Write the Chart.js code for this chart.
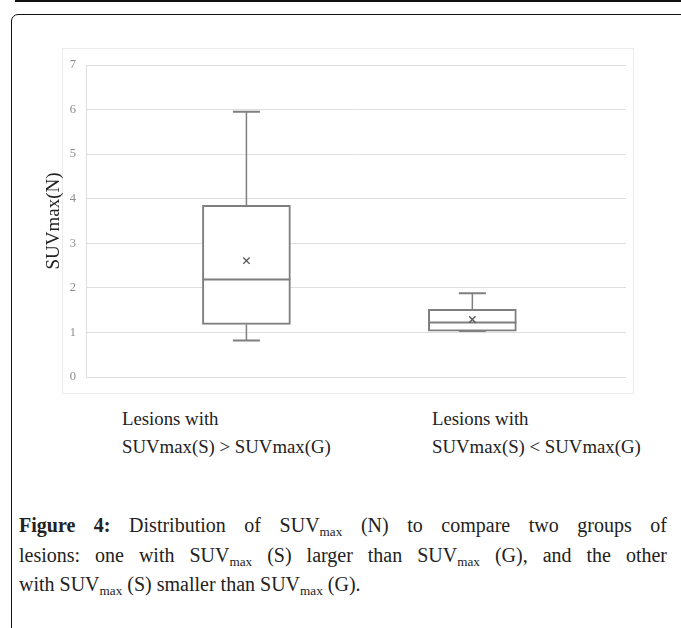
<!DOCTYPE html>
<html>
<head>
<meta charset="utf-8">
<script src="https://cdn.jsdelivr.net/npm/chart.js@4.4.1/dist/chart.umd.min.js"></script>
<style>
body { margin:0; width:681px; height:628px; overflow:hidden; background:#fff; position:relative; font-family:"Liberation Serif", serif; }
#topline { position:absolute; left:15px; right:0; top:0; height:2px; background:#111; }
#frame { position:absolute; left:11px; top:14px; width:720px; height:660px; border:1.5px solid #111; border-radius:7px; }
#chartBorder { position:absolute; left:62px; top:48px; width:570px; height:344px; border:1px solid #ebebeb; }
#wrap { position:absolute; left:30px; top:40px; width:620px; height:360px; }
.xlab { position:absolute; top:405px; font-size:18.8px; line-height:28px; color:#222; white-space:nowrap; }
#caption { position:absolute; left:19px; top:511px; width:648px; font-size:20px; line-height:29.5px; color:#222; }
.cl { white-space:nowrap; }
.j { text-align:justify; text-align-last:justify; white-space:normal; }
sub { font-size:0.66em; vertical-align:-0.3em; line-height:0; }
</style>
</head>
<body>
<div id="topline"></div>
<div id="frame"></div>
<div id="chartBorder"></div>
<div id="wrap"><canvas id="box" width="620" height="360"></canvas></div>
<div id="labels"></div>
<div id="caption">
<div class="cl j"><b>Figure 4:</b> Distribution of SUV<sub>max</sub> (N) to compare two groups of</div>
<div class="cl j">lesions: one with SUV<sub>max</sub> (S) larger than SUV<sub>max</sub> (G), and the other</div>
<div class="cl">with SUV<sub>max</sub> (S) smaller than SUV<sub>max</sub> (G).</div>
</div>
<script>
// groups
var categories = [
    ['Lesions with', 'SUVmax(S) > SUVmax(G)'],
    ['Lesions with', 'SUVmax(S) < SUVmax(G)']
];
var xPos = [1, 2];
// box plot stats
var mins = [0.82, 1.03];
var q1s = [1.18, 1.03];
var medians = [2.19, 1.22];
var q3s = [3.85, 1.52];
var maxs = [5.95, 1.88];
var means = [2.61, 1.29];
var yMin = 0, yMax = 7, yStep = 1;

var labelLeft = [122, 432];
var labelsDiv = document.getElementById('labels');
categories.forEach(function (lines, i) {
    var d = document.createElement('div');
    d.className = 'xlab';
    d.style.left = labelLeft[i] + 'px';
    d.innerHTML = lines.map(function (t) {
        return t.replace(/&/g, '&amp;').replace(/</g, '&lt;').replace(/>/g, '&gt;');
    }).join('<br>');
    labelsDiv.appendChild(d);
});

var boxHalf = 44, capHalf = 13.5;
var lineColor = '#7f7f7f';

var boxPlotLines = {
    id: 'boxPlotLines',
    afterDatasetDraw: function (chart, args) {
        if (args.index !== 0) return;
        var ctx = chart.ctx, xs = chart.scales.x, ys = chart.scales.y;
        ctx.save();
        ctx.strokeStyle = lineColor;
        xPos.forEach(function (pos, i) {
            var cx = xs.getPixelForValue(pos);
            // whiskers
            ctx.lineWidth = 1.5;
            ctx.beginPath();
            ctx.moveTo(cx, ys.getPixelForValue(q3s[i]));
            ctx.lineTo(cx, ys.getPixelForValue(maxs[i]));
            ctx.moveTo(cx, ys.getPixelForValue(q1s[i]));
            ctx.lineTo(cx, ys.getPixelForValue(mins[i]));
            ctx.stroke();
            // caps
            ctx.lineWidth = 2;
            ctx.beginPath();
            ctx.moveTo(cx - capHalf, ys.getPixelForValue(maxs[i]));
            ctx.lineTo(cx + capHalf, ys.getPixelForValue(maxs[i]));
            ctx.moveTo(cx - capHalf, ys.getPixelForValue(mins[i]));
            ctx.lineTo(cx + capHalf, ys.getPixelForValue(mins[i]));
            ctx.stroke();
            // median
            ctx.beginPath();
            ctx.moveTo(cx - boxHalf, ys.getPixelForValue(medians[i]));
            ctx.lineTo(cx + boxHalf, ys.getPixelForValue(medians[i]));
            ctx.stroke();
        });
        ctx.restore();
    }
};

new Chart(document.getElementById('box'), {
    data: {
        datasets: [
            {
                type: 'bar',
                order: 2,
                data: xPos.map(function (x, i) { return { x: x, y: [q1s[i], q3s[i]] }; }),
                backgroundColor: '#ffffff',
                borderColor: lineColor,
                borderWidth: 2,
                borderSkipped: false,
                barThickness: 88
            },
            {
                type: 'scatter',
                order: 1,
                data: xPos.map(function (x, i) { return { x: x, y: means[i] }; }),
                pointStyle: 'crossRot',
                pointRadius: 4.5,
                borderColor: '#555',
                borderWidth: 1.3
            }
        ]
    },
    options: {
        responsive: false,
        animation: false,
        events: [],
        layout: { padding: { left: 13, right: 24, top: 25, bottom: 23 } },
        plugins: { legend: { display: false }, tooltip: { enabled: false } },
        scales: {
            x: { type: 'linear', min: 0.29, max: 2.68, offset: false, display: false },
            y: {
                min: yMin,
                max: yMax,
                ticks: {
                    stepSize: yStep,
                    color: '#8c8c8c',
                    padding: 10,
                    font: { family: 'Liberation Serif', size: 12.5 }
                },
                grid: { color: '#dedede', drawTicks: false },
                border: { color: '#dedede' },
                title: {
                    display: true,
                    text: 'SUVmax(N)',
                    color: '#222',
                    padding: 0,
                    font: { family: 'Liberation Serif', size: 19 }
                },
                afterFit: function (scale) { scale.width = 43; }
            }
        }
    },
    plugins: [boxPlotLines]
});
</script>
</body>
</html>
